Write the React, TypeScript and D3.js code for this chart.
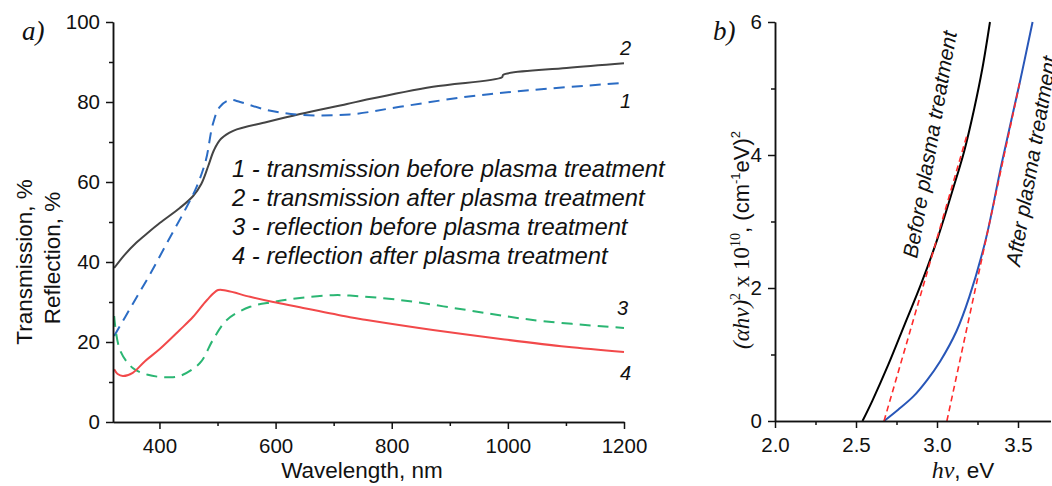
import React, { useEffect, useRef } from "react";
import * as d3 from "d3";

type Pt = [number, number];

// panel a) wavelength (nm) -> %
const transBefore: Pt[] = [
  [322, 21.5], [354, 29.5], [384, 37], [415, 45.3], [447, 53.8], [464, 58.8], [480, 65.5],
  [492, 74.5], [504, 78.8], [521, 80.5], [539, 80], [585, 78], [642, 76.8], [728, 76.9],
  [814, 78.8], [929, 81.3], [1043, 83], [1200, 84.8],
];
const transAfter: Pt[] = [
  [322, 38.5], [340, 41.8], [360, 44.8], [380, 47.3], [401, 49.8], [435, 53.5], [458, 56.5],
  [472, 59.5], [484, 64], [494, 68], [506, 70.8], [527, 72.8], [585, 75], [642, 77],
  [723, 79.5], [757, 80.6], [871, 83.8], [990, 86.2], [992, 86.8], [1101, 88.5], [1200, 89.7],
];
const reflBefore: Pt[] = [
  [322, 26.5], [332, 18], [354, 13.5], [380, 11.8], [410, 11.2], [435, 11.5], [470, 14.8],
  [492, 20.5], [516, 25.5], [556, 28.8], [596, 30], [642, 31], [699, 31.7], [728, 31.6],
  [814, 30.5], [929, 28], [1043, 25.5], [1200, 23.5],
];
const reflAfter: Pt[] = [
  [322, 13.2], [328, 12], [337, 11.5], [354, 12.3], [375, 15.2], [401, 18.3],
  [435, 23], [458, 26.3], [482, 30.5], [501, 33], [516, 32.8], [556, 31.3], [596, 30],
  [642, 28.7], [728, 26.2], [757, 25.5], [871, 23], [991, 20.7], [1101, 18.8], [1200, 17.5],
];
const legendLines = [
  "1 - transmission before plasma treatment",
  "2 - transmission after plasma treatment",
  "3 - reflection before plasma treatment",
  "4 - reflection after plasma treatment",
];
const leftXTicks = [400, 600, 800, 1000, 1200];
const leftXMinor = [500, 700, 900, 1100];
const leftYTicks = [0, 20, 40, 60, 80, 100];
const leftYMinor = [10, 30, 50, 70, 90];

// panel b) photon energy (eV) -> (alpha h nu)^2 x 1e10
const taucBefore: Pt[] = [
  [2.54, 0], [2.6, 0.3], [2.7, 0.85], [2.8, 1.45], [2.9, 2.05], [3.0, 2.72],
  [3.1, 3.5], [3.167, 4.05], [3.23, 4.7], [3.28, 5.3], [3.327, 6],
];
const taucAfter: Pt[] = [
  [2.673, 0], [2.76, 0.17], [2.854, 0.37], [2.94, 0.62], [3.02, 0.9], [3.12, 1.35],
  [3.2, 1.87], [3.3, 2.72], [3.4, 3.88], [3.51, 5.08], [3.59, 6],
];
const fitBefore: Pt[] = [[2.673, 0], [3.185, 4.3]];
const fitAfter: Pt[] = [[3.061, 0], [3.51, 5.08]];
const rightXTicks = [2.0, 2.5, 3.0, 3.5];
const rightXMinor = [2.25, 2.75, 3.25, 3.75];
const rightYTicks = [0, 2, 4, 6];
const rightYMinor = [1, 3, 5];

const sans = "'Liberation Sans', Arial, sans-serif";
const serif = "'Liberation Serif', 'Times New Roman', serif";

function drawAxes(svg, x, y, xt, xm, yt, ym, fx, fy) {
  const x0 = x.range()[0];
  const y0 = y.range()[0];
  const gx = svg.append("g").attr("transform", `translate(0,${y0})`);
  gx.call(d3.axisBottom(x).tickValues(xm).tickFormat(() => "").tickSize(4).tickSizeOuter(0));
  gx.append("g").call(d3.axisBottom(x).tickValues(xt).tickFormat(fx).tickSize(7).tickPadding(9).tickSizeOuter(0));
  const gy = svg.append("g").attr("transform", `translate(${x0},0)`);
  gy.call(d3.axisLeft(y).tickValues(ym).tickFormat(() => "").tickSize(4).tickSizeOuter(0));
  gy.append("g").call(d3.axisLeft(y).tickValues(yt).tickFormat(fy).tickSize(7).tickPadding(6).tickSizeOuter(0));
  [gx, gy].forEach((g) => {
    g.selectAll("text").attr("font-size", 20.5).attr("font-family", sans).attr("fill", "#111");
    g.selectAll("line, path").attr("stroke", "#111").attr("stroke-width", 1.5);
  });
}

export default function App() {
  const chart = useRef<SVGSVGElement>(null);

  useEffect(() => {
    const svg = d3.select(chart.current);
    svg.selectAll("*").remove();

    // ---------- panel a ----------
    const xA = d3.scaleLinear().domain([320, 1200]).range([113, 624]);
    const yA = d3.scaleLinear().domain([0, 100]).range([422, 22]);
    const lineA = d3.line<Pt>().x((d) => xA(d[0])).y((d) => yA(d[1])).curve(d3.curveCatmullRom.alpha(0.5));

    const seriesA = [
      { data: transAfter, color: "#444444", dash: null },
      { data: transBefore, color: "#2b6cc4", dash: "11,7" },
      { data: reflBefore, color: "#2bb673", dash: "11,7" },
      { data: reflAfter, color: "#f2494a", dash: null },
    ];
    seriesA.forEach((s) => {
      svg.append("path")
        .attr("d", lineA(s.data))
        .attr("fill", "none")
        .attr("stroke", s.color)
        .attr("stroke-width", 2)
        .attr("stroke-dasharray", s.dash);
    });

    drawAxes(svg, xA, yA, leftXTicks, leftXMinor, leftYTicks, leftYMinor, d3.format("d"), d3.format("d"));

    // curve numbers
    const tags: [string, number, number][] = [["2", 1193, 91.8], ["1", 1193, 78.5], ["3", 1188, 26.8], ["4", 1193, 10.5]];
    tags.forEach(([t, wx, v]) => {
      svg.append("text").attr("x", xA(wx)).attr("y", yA(v)).text(t)
        .attr("font-family", sans).attr("font-style", "italic").attr("font-size", 20).attr("fill", "#111");
    });

    // legend
    svg.append("g").selectAll("text").data(legendLines).enter().append("text")
      .attr("x", 232).attr("y", (d, i) => 177 + i * 29)
      .attr("font-family", sans).attr("font-style", "italic").attr("font-size", 23.8).attr("fill", "#111")
      .text((d) => d);

    // axis titles
    svg.append("text").attr("x", 362).attr("y", 478).attr("text-anchor", "middle")
      .attr("font-family", sans).attr("font-size", 22.5).attr("fill", "#111").text("Wavelength, nm");
    svg.append("text").attr("transform", "translate(32,262) rotate(-90)").attr("text-anchor", "middle")
      .attr("font-family", sans).attr("font-size", 22.5).attr("fill", "#111").text("Transmission, %");
    svg.append("text").attr("transform", "translate(60,258) rotate(-90)").attr("text-anchor", "middle")
      .attr("font-family", sans).attr("font-size", 22.5).attr("fill", "#111").text("Reflection, %");
    svg.append("text").attr("x", 22).attr("y", 40).attr("font-family", serif).attr("font-style", "italic")
      .attr("font-size", 27).attr("fill", "#111").text("a)");

    // ---------- panel b ----------
    const xB = d3.scaleLinear().domain([2.0, 3.7]).range([775, 1050.4]);
    const yB = d3.scaleLinear().domain([0, 6]).range([421, 22]);
    const lineB = d3.line<Pt>().x((d) => xB(d[0])).y((d) => yB(d[1])).curve(d3.curveCatmullRom.alpha(0.5));

    [{ data: taucBefore, color: "#000" }, { data: taucAfter, color: "#2856b8" }].forEach((s) => {
      svg.append("path").attr("d", lineB(s.data)).attr("fill", "none")
        .attr("stroke", s.color).attr("stroke-width", 2);
    });
    [fitBefore, fitAfter].forEach((f) => {
      svg.append("path").attr("d", lineB(f)).attr("fill", "none")
        .attr("stroke", "#ff2a2a").attr("stroke-width", 1.6).attr("stroke-dasharray", "6,4");
    });

    drawAxes(svg, xB, yB, rightXTicks, rightXMinor, rightYTicks, rightYMinor, d3.format(".1f"), d3.format("d"));

    svg.append("text").attr("transform", "translate(917,259) rotate(-80)")
      .attr("font-family", sans).attr("font-style", "italic").attr("font-size", 21).attr("fill", "#111")
      .text("Before plasma treatment");
    svg.append("text").attr("transform", "translate(1020,267) rotate(-80)")
      .attr("font-family", sans).attr("font-style", "italic").attr("font-size", 21).attr("fill", "#111")
      .text("After plasma treatment");

    // y title with super scripts
    const yt = svg.append("text").attr("transform", "translate(749,240) rotate(-90)")
      .attr("text-anchor", "middle").attr("fill", "#111");
    const parts: [string, string, number, number, boolean][] = [
      ["(αhν)", serif, 23, 0, true],
      ["2", serif, 14, -9, false],
      [" x 10", serif, 23, 9, false],
      ["10", serif, 14, -9, false],
      [", (cm", sans, 22, 9, false],
      ["-1", sans, 13, -9, false],
      ["eV)", sans, 22, 9, false],
      ["2", sans, 13, -9, false],
    ];
    parts.forEach(([t, f, s, dy, it]) => {
      yt.append("tspan").attr("font-family", f).attr("font-size", s).attr("dy", dy)
        .attr("font-style", it ? "italic" : "normal").text(t);
    });

    const xt = svg.append("text").attr("x", 963).attr("y", 478).attr("text-anchor", "middle").attr("fill", "#111");
    xt.append("tspan").attr("font-family", serif).attr("font-style", "italic").attr("font-size", 24).text("hν");
    xt.append("tspan").attr("font-family", sans).attr("font-size", 22.5).text(", eV");

    svg.append("text").attr("x", 713).attr("y", 40).attr("font-family", serif).attr("font-style", "italic")
      .attr("font-size", 27).attr("fill", "#111").text("b)");

    return () => {
      svg.selectAll("*").remove();
    };
  }, []);

  return (
    <svg ref={chart} width={1052} height={486}
      style={{ position: "absolute", left: 0, top: 0, background: "#fff" }}></svg>
  );
}
